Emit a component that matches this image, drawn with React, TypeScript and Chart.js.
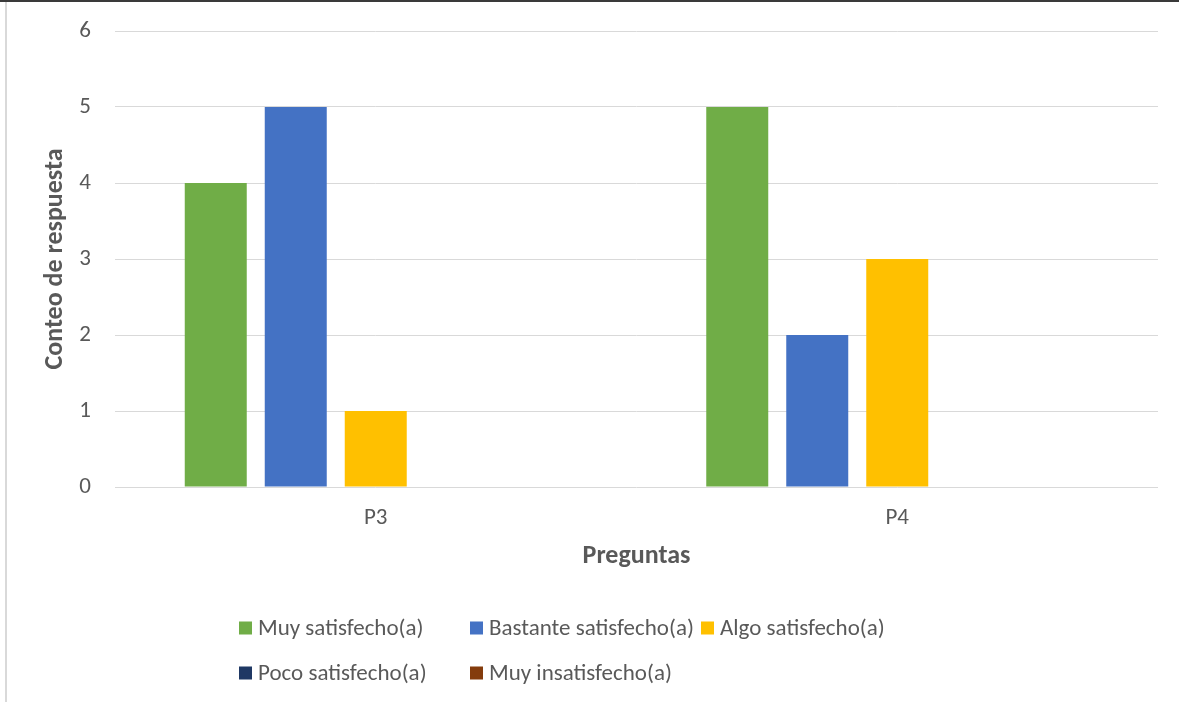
import { useEffect, useRef } from "react";
import { Chart, registerables } from "chart.js";

Chart.register(...registerables);

// Survey answers counted per question
const categories = ["P3", "P4"];
const seriesNames = [
  "Muy satisfecho(a)",
  "Bastante satisfecho(a)",
  "Algo satisfecho(a)",
  "Poco satisfecho(a)",
  "Muy insatisfecho(a)",
];
const muySatisfecho = [4, 5];
const bastanteSatisfecho = [5, 2];
const algoSatisfecho = [1, 3];
const pocoSatisfecho = [0, 0];
const muyInsatisfecho = [0, 0];
const seriesColors = ["#70AD47", "#4472C4", "#FFC000", "#1F3864", "#843C0C"];
const yMin = 0;
const yMax = 6;
const yStep = 1;

const xTitle = "Preguntas";
const yTitle = "Conteo de respuesta";

const FONT = '"Carlito", "Lato", "Noto Sans", sans-serif';
const TEXT = "#595959";
const GRID = "#D9D9D9";

// Legend laid out as a fixed grid of three columns under the plot
const gridLegend = {
  id: "gridLegend",
  afterDraw(chart: any) {
    const { ctx } = chart;
    const items = chart.data.datasets;
    const startX = 239;
    const colW = 231;
    const rowY = [chart.chartArea.bottom + 141, chart.chartArea.bottom + 186];
    const box = 13;
    ctx.save();
    ctx.font = `23px ${FONT}`;
    ctx.textBaseline = "middle";
    ctx.textAlign = "left";
    items.forEach((ds: any, i: number) => {
      const col = i % 3;
      const row = Math.floor(i / 3);
      const x = startX + col * colW;
      const y = rowY[row];
      ctx.fillStyle = ds.backgroundColor;
      ctx.fillRect(x, y - box / 2, box, box);
      ctx.fillStyle = TEXT;
      ctx.fillText(ds.label, x + box + 6, y + 1);
    });
    ctx.restore();
  },
};

export default function App() {
  const canvasRef = useRef<HTMLCanvasElement | null>(null);

  useEffect(() => {
    const canvas = canvasRef.current;
    if (!canvas) return;
    const values = [muySatisfecho, bastanteSatisfecho, algoSatisfecho, pocoSatisfecho, muyInsatisfecho];
    const chart = new Chart(canvas, {
      type: "bar",
      data: {
        labels: categories,
        datasets: seriesNames.map((name, i) => ({
          label: name,
          data: values[i],
          backgroundColor: seriesColors[i],
          borderWidth: 0,
          categoryPercentage: 0.767,
          barPercentage: 0.775,
        })),
      },
      options: {
        responsive: false,
        animation: false,
        layout: { padding: { left: 40, right: 21, top: 31, bottom: 130 } },
        plugins: {
          legend: { display: false },
          tooltip: { enabled: false },
        },
        scales: {
          x: {
            grid: { display: false },
            border: { display: false },
            ticks: { font: { family: FONT, size: 23 }, color: TEXT, padding: 9 },
            title: {
              display: true,
              text: xTitle,
              font: { family: FONT, size: 26, weight: "bold" },
              color: TEXT,
              padding: 0,
            },
            afterFit(scale: any) {
              scale.height = 85;
            },
          },
          y: {
            min: yMin,
            max: yMax,
            ticks: {
              stepSize: yStep,
              font: { family: FONT, size: 23 },
              color: TEXT,
              padding: 0,
            },
            // invisible tick marks keep the labels clear of the plot edge
            grid: { color: GRID, lineWidth: 1, drawTicks: true, tickLength: 24, tickColor: "rgba(0,0,0,0)" },
            border: { display: false },
            title: {
              display: true,
              text: yTitle,
              font: { family: FONT, size: 26, weight: "bold" },
              color: TEXT,
              padding: 0,
            },
            afterFit(scale: any) {
              scale.width = 75;
            },
          },
        },
      },
      plugins: [gridLegend],
    });
    return () => chart.destroy();
  }, []);

  return (
    <div style={{ position: "absolute", left: 0, top: 0, width: 1179, height: 702, background: "#fff" }}>
      <canvas ref={canvasRef} width={1179} height={702} style={{ position: "absolute", left: 0, top: 0 }} />
      <div style={{ position: "absolute", left: 0, top: 0, width: 1179, height: 2, background: "#3a3a3a" }} />
      <div style={{ position: "absolute", left: 5, top: 2, width: 2, height: 700, background: "#D9D9D9" }} />
    </div>
  );
}
